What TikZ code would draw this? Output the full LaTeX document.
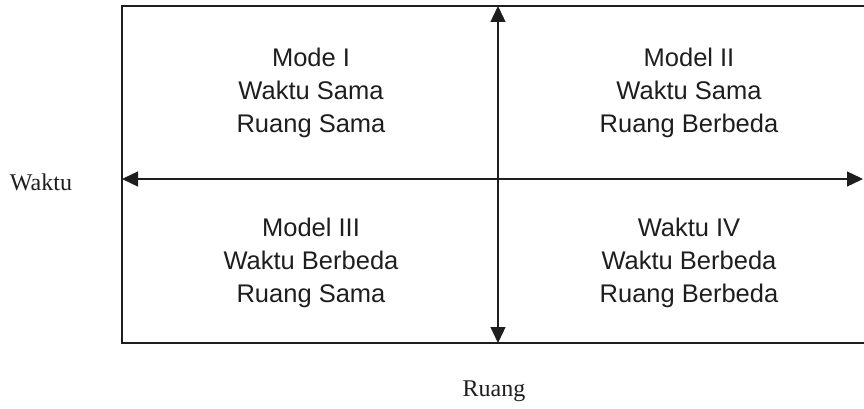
\documentclass[tikz,border=0pt]{standalone}
\usepackage{fontspec}
\setmainfont{Liberation Serif}
\newfontfamily\quadfont{Liberation Sans}
\usetikzlibrary{arrows.meta}
\definecolor{ink}{HTML}{1E1E1E}
\tikzset{
  quadtext/.style={align=center, inner sep=0pt, text=ink,
    font=\quadfont\fontsize{25.5}{33}\selectfont},
  axislabel/.style={inner sep=0pt, text=ink, font=\fontsize{24}{28}\selectfont, anchor=base},
  frameline/.style={draw=ink, line width=1.8pt},
  axisarrow/.style={draw=ink, line width=1.3pt, {Triangle[length=16pt,width=15pt]}-{Triangle[length=16pt,width=15pt]}}
}
\begin{document}
\begin{tikzpicture}[x=1pt,y=-1pt]
  \useasboundingbox (0,0) rectangle (864,409);
  \clip (0,0) rectangle (864,409);
  % frame
  \coordinate (tl) at (122,6);
  \coordinate (br) at (892,343);
  \draw[frameline] (tl) rectangle (br);
  % axes
  \coordinate (vtop) at (498,6);
  \coordinate (vbot) at (498,343);
  \coordinate (hleft) at (122,179);
  \coordinate (hright) at (863,179);
  \draw[axisarrow] (vtop) -- (vbot);
  \draw[axisarrow] (hleft) -- (hright);
  % quadrant texts
  \node[quadtext] (q1) at (311,93) {Mode I\\Waktu Sama\\Ruang Sama};
  \node[quadtext] (q2) at (689,93) {Model II\\Waktu Sama\\Ruang Berbeda};
  \node[quadtext] (q3) at (311,263) {Model III\\Waktu Berbeda\\Ruang Sama};
  \node[quadtext] (q4) at (689,263) {Waktu IV\\Waktu Berbeda\\Ruang Berbeda};
  % axis labels
  \node[axislabel] (lw) at (41,190) {Waktu};
  \node[axislabel] (lr) at (494,396) {Ruang};
\end{tikzpicture}
\end{document}
